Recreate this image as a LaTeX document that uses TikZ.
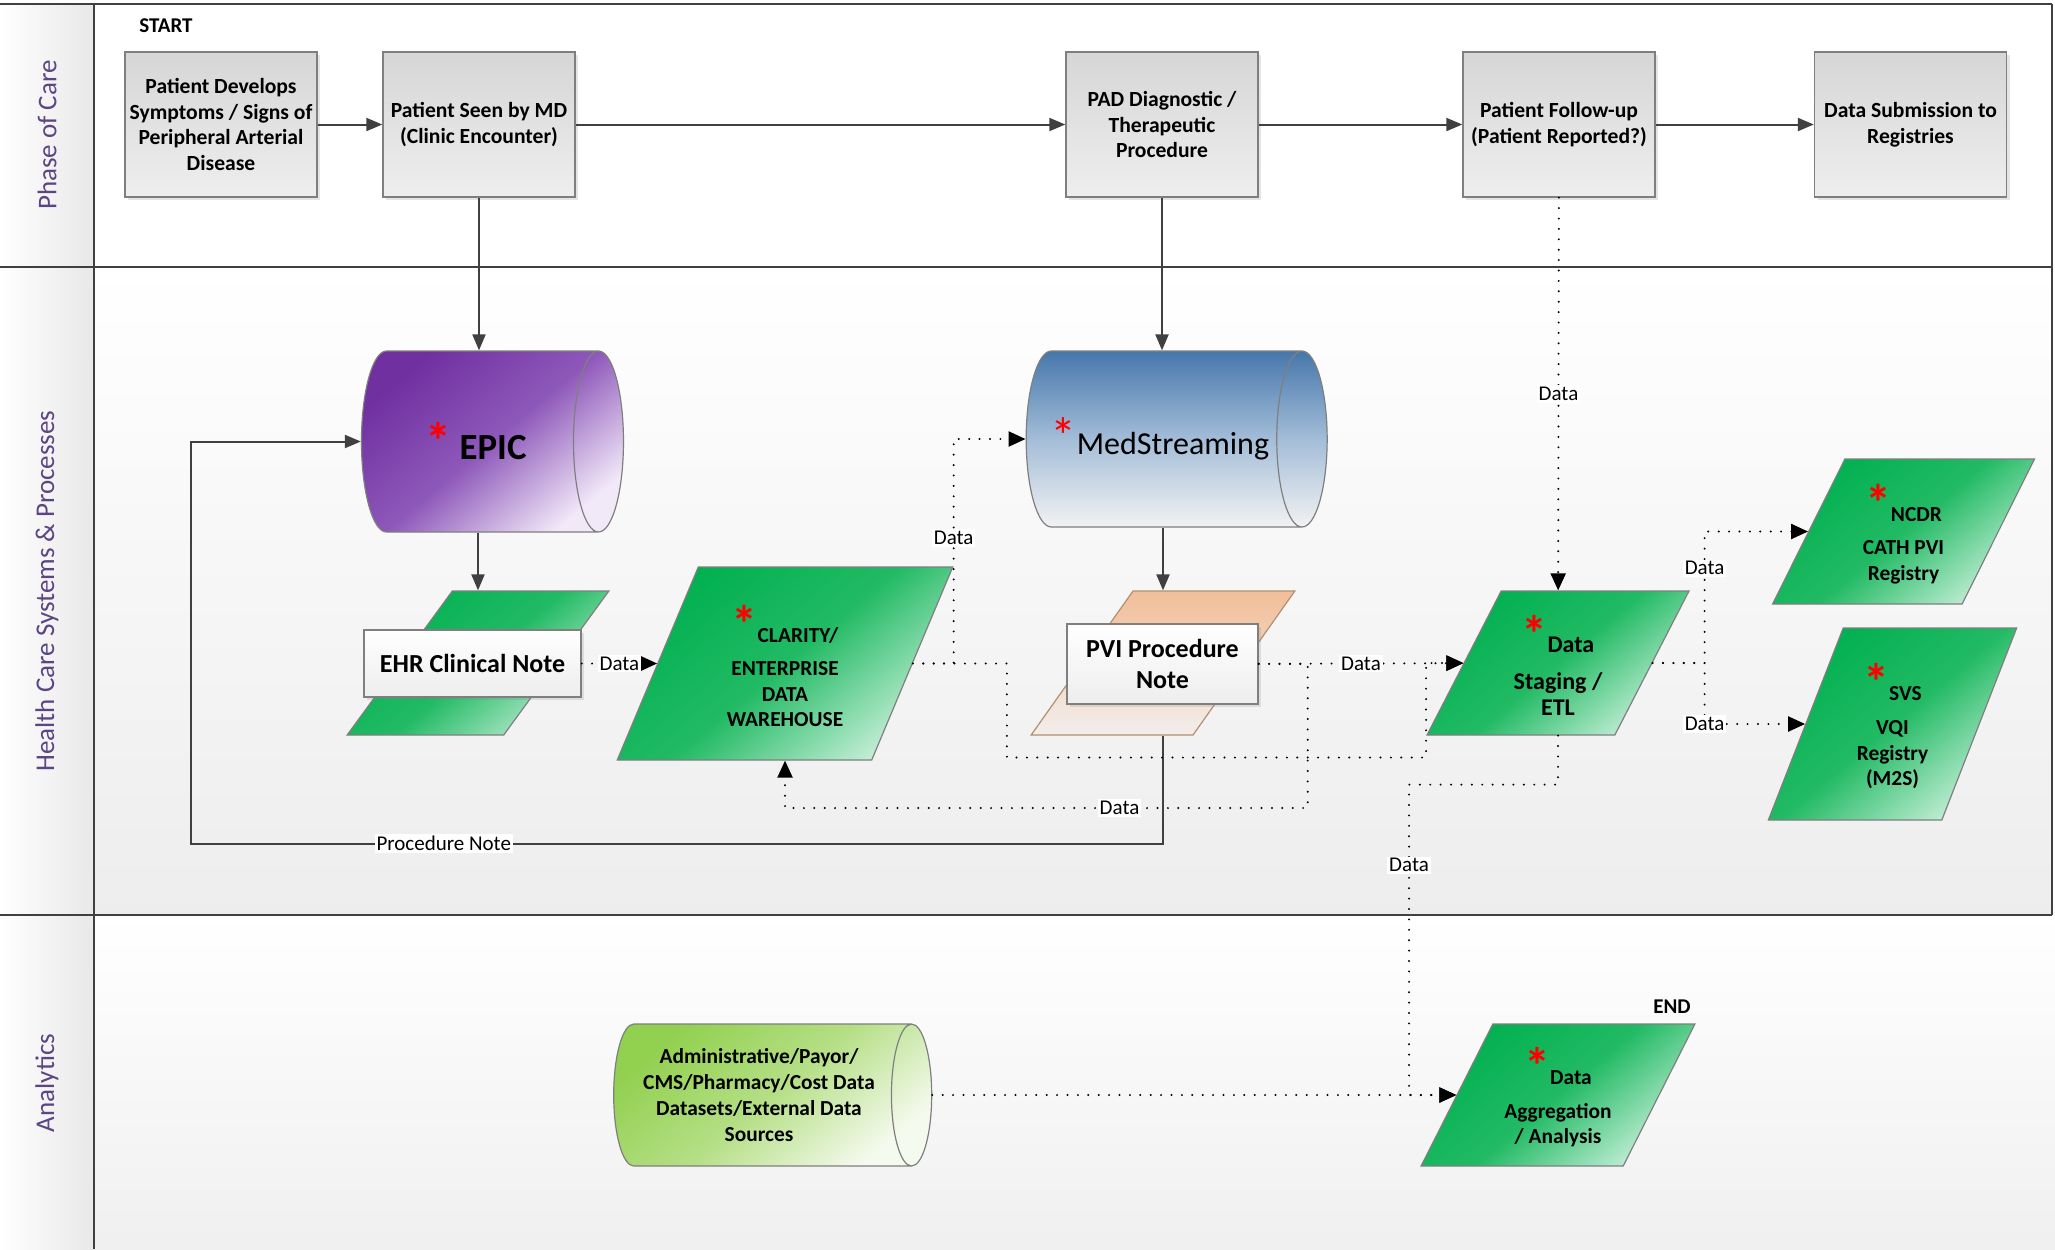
\documentclass[tikz,border=0pt]{standalone}
\usepackage{fontspec}
\setmainfont{Carlito}
\usetikzlibrary{arrows.meta}
\usetikzlibrary{shapes.geometric}
\usetikzlibrary{shadows}
\definecolor{lanetext}{HTML}{5B4583}
\definecolor{laneline}{HTML}{404040}
\definecolor{arrowgray}{HTML}{404040}
\definecolor{boxtop}{HTML}{D6D6D6}
\definecolor{boxbot}{HTML}{EEEEEE}
\definecolor{boxline}{HTML}{7F7F7F}
\definecolor{gdark}{HTML}{00B050}
\definecolor{gmid}{HTML}{22BA64}
\definecolor{glight}{HTML}{C4EED6}
\definecolor{epicdark}{HTML}{7030A0}
\definecolor{epicmid}{HTML}{8E58BA}
\definecolor{epiclight}{HTML}{F1E8F8}
\definecolor{meddark}{HTML}{4677AB}
\definecolor{medmid}{HTML}{A3BDD8}
\definecolor{medlight}{HTML}{F2F2F2}
\definecolor{limedark}{HTML}{92D050}
\definecolor{limemid}{HTML}{B5DF86}
\definecolor{limelight}{HTML}{F5FAEE}
\definecolor{peachtop}{HTML}{F2BE98}
\definecolor{peachbot}{HTML}{F2EEEC}
\definecolor{peachline}{HTML}{B09070}
\newcommand{\fsz}[2]{\fontsize{#1}{#2}\selectfont}
\newcommand{\req}{{\color{red}\fontsize{26}{26}\selectfont *}}
\newcommand{\reqline}{\rule{0pt}{21pt}\req}

\tikzset{
  phasebox/.style={rectangle, draw=boxline, line width=.7pt, top color=boxtop, bottom color=boxbot,
    minimum width=96pt, minimum height=72.5pt, align=center, inner sep=1pt,
    font=\bfseries\fsz{10.8}{12.8},
    drop shadow={opacity=.2, shadow xshift=1.5pt, shadow yshift=-1.5pt}},
  notebox/.style={rectangle, draw=boxline, line width=.7pt, top color=white, bottom color=black!7,
    align=center, inner sep=1pt, font=\bfseries\fsz{13}{15.7},
    drop shadow={opacity=.2, shadow xshift=1.5pt, shadow yshift=-1.5pt}},
  para/.style 2 args={trapezium, trapezium left angle=#1, trapezium right angle=#2,
    trapezium stretches=true, draw=boxline, line width=.6pt, align=center, inner sep=2pt},
  greenpara/.style={top color=gdark, bottom color=glight, middle color=gmid, shading angle=40,
    font=\bfseries\fsz{10.7}{12.8}},
  store/.style={cylinder, draw=boxline, line width=.6pt, align=center, inner sep=2pt},
  flow/.style={draw=arrowgray, line width=1pt, -{Triangle[length=8pt,width=6.5pt]}},
  dataflow/.style={draw=black, line width=1.1pt, line cap=round, dash pattern=on 0pt off 5.2pt,
    -{Triangle[length=8.5pt,width=7.5pt]}},
  lbl/.style={fill=white, inner sep=1pt, font=\fsz{10.5}{12}},
  lanetitle/.style={rotate=90, text=lanetext, font=\fsz{13.5}{16}},
  marker/.style={font=\bfseries\fsz{10.5}{12}},
}

\begin{document}
\begin{tikzpicture}[x=0.5pt, y=-0.5pt]
  \useasboundingbox (0,0) rectangle (2055,1249);
  % swim lanes
  \fill[white] (0,0) rectangle (2055,1249);
  \shade[left color=white, right color=black!9] (0,4) rectangle (94,1249);
  \shade[top color=white, bottom color=black!7] (94,267) rectangle (2052,915);
  \shade[top color=white, bottom color=black!6] (94,915) rectangle (2055,1249);
  \draw[laneline, line width=1.3pt] (0,4) -- (2052,4) (0,267) -- (2052,267) (0,915) -- (2052,915)
    (94,4) -- (94,1249) (2052,4) -- (2052,915);
  \node[lanetitle] (lanephase) at (47,135) {Phase of Care};
  \node[lanetitle] (lanesys) at (47,591) {Health Care Systems \& Processes};
  \node[lanetitle] (laneana) at (47,1083) {Analytics};

  % phase of care
  \node[marker] (start) at (166,26) {START};
  \node[phasebox] (onset) at (221,124.5) {Patient Develops\\Symptoms / Signs of\\Peripheral Arterial\\Disease};
  \node[phasebox] (clinic) at (479,124.5) {Patient Seen by MD\\(Clinic Encounter)};
  \node[phasebox] (proc) at (1162,124.5) {PAD Diagnostic /\\Therapeutic\\Procedure};
  \node[phasebox] (followup) at (1559,124.5) {Patient Follow-up\\(Patient Reported?)};
  \node[phasebox] (submit) at (1910.5,124.5) {Data Submission to\\Registries};

  % systems
  \node[store, shape aspect=1.1, minimum height=131pt, minimum width=90.5pt, top color=epicdark,
    bottom color=epiclight, middle color=epicmid, shading angle=40, font=\bfseries\fsz{18.4}{22}]
    (epic) at (476,441.5) {\req\ EPIC};
  \node[store, shape aspect=1.0, minimum height=150.5pt, minimum width=88pt, top color=meddark,
    bottom color=medlight, middle color=medmid, font=\fsz{16}{19}] (med) at (1160,439) {\req MedStreaming};
  \node[para={64}{116}, greenpara, minimum width=131pt, minimum height=72pt] (ehrbg) at (478,663) {\strut};
  \node[notebox, minimum width=108.5pt, minimum height=33.5pt] (ehr) at (472.5,663.5) {EHR Clinical Note};
  \node[para={66.7}{113.3}, greenpara, minimum width=168pt, minimum height=96.5pt] (clarity) at (785,663.5)
    {\reqline CLARITY/\\[4pt]ENTERPRISE\\DATA\\WAREHOUSE};
  \node[para={67}{113}, top color=peachtop, bottom color=peachbot, draw=peachline, minimum width=132pt,
    minimum height=72pt] (pvibg) at (1163,663) {\strut};
  \node[notebox, minimum width=95.5pt, minimum height=40pt] (pvi) at (1162.5,664) {PVI Procedure\\Note};
  \node[para={61}{119}, greenpara, font=\bfseries\fsz{12}{13.4}, minimum width=131pt, minimum height=72pt]
    (staging) at (1558,663) {\reqline Data\\[5pt]Staging /\\ETL};
  \node[para={64}{116}, greenpara, minimum width=131.5pt, minimum height=72.5pt] (ncdr) at (1903.5,531.5)
    {\reqline NCDR\\[4pt]CATH PVI\\Registry};
  \node[para={66.4}{113.6}, greenpara, minimum width=125.5pt, minimum height=96pt] (svs) at (1892.5,724)
    {\reqline SVS\\[4pt]VQI\\Registry\\(M2S)};

  % analytics
  \node[store, shape aspect=0.4, minimum height=159pt, minimum width=71pt, top color=limedark,
    bottom color=limelight, middle color=limemid, shading angle=40, font=\bfseries\fsz{10.7}{12.9}]
    (extsrc) at (759,1095) {Administrative/Payor/\\CMS/Pharmacy/Cost Data\\Datasets/External Data\\Sources};
  \node[para={60.6}{119.4}, greenpara, minimum width=137pt, minimum height=71pt] (aggr) at (1558,1095)
    {\reqline Data\\[4pt]Aggregation\\/ Analysis};
  \node[marker] (end) at (1672,1007) {END};

  % process flow
  \draw[flow] (onset) -- (clinic);
  \draw[flow] (clinic) -- (proc);
  \draw[flow] (proc) -- (followup);
  \draw[flow] (followup) -- (submit);
  \draw[flow] (clinic) -- (clinic |- epic.north);
  \draw[flow] (proc) -- (proc |- med.north);
  \draw[flow] (epic.south -| ehrbg) -- (ehrbg.north);
  \draw[flow] (med.south -| pvibg) -- (pvibg.north);
  \draw[flow] (pvibg.south) -- ++(0,108) -- ++(-972,0) node[lbl, pos=.74] {Procedure Note} |- (epic.west);

  % data flow
  \draw[dataflow] (followup) -- node[lbl] {Data} (staging);
  \draw[dataflow] (ehr) -- node[lbl] {Data} (clarity);
  \draw[dataflow] (clarity.right side) -| (clarity.top right corner |- med.west) node[lbl, pos=.78] {Data} -- (med.west);
  \draw[dataflow] (clarity.right side) -- ++(94,0) -- ++(0,94) -| (staging.left side -| staging.bottom left corner) -- (staging.left side);
  \draw[dataflow] (pvi) -- node[lbl] {Data} (staging);
  \draw[dataflow] (pvi.east) -- ++(49,0) -- ++(0,144) -| node[lbl, pos=.18] {Data} (clarity.south);
  \draw[dataflow] (staging.right side) -- ++(52,0) |- node[lbl, pos=.36] {Data} (ncdr.left side);
  \draw[dataflow] (staging.right side) -- ++(52,0) |- node[lbl, pos=.5] {Data} (svs.left side);
  \draw[dataflow] (staging.south) -- ++(0,49) -- ++(-149,0) |- node[lbl, pos=.13] {Data} (aggr.left side);
  \draw[dataflow] (extsrc.east) -- (aggr.left side);
\end{tikzpicture}
\end{document}
